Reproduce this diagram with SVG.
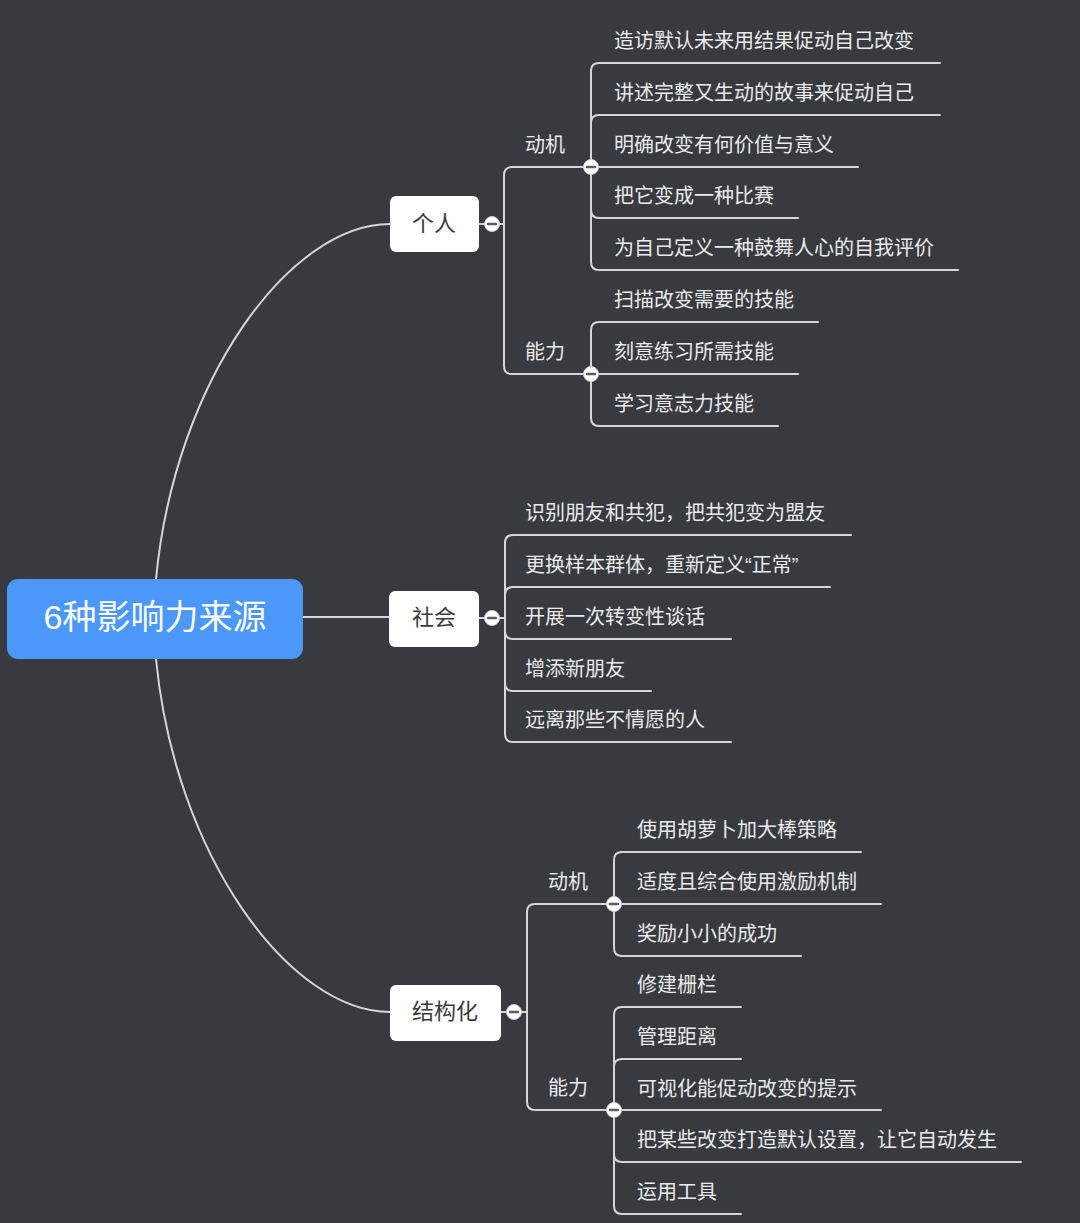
<svg xmlns="http://www.w3.org/2000/svg" width="1080" height="1223" viewBox="0 0 1080 1223">
<style>
.t{font-family:"Liberation Sans","Noto Sans CJK SC",sans-serif;font-size:20px;fill:#ebebeb;dominant-baseline:central}
.n{font-family:"Liberation Sans","Noto Sans CJK SC",sans-serif;font-size:22px;fill:#3a3a3a;text-anchor:middle;dominant-baseline:central}
.c{fill:none;stroke:#d6d6d6;stroke-width:2;stroke-linecap:round}
.nb{fill:#ffffff}
.btn circle{fill:#ffffff;stroke:#cfcfcf;stroke-width:1}
.btn line{stroke:#5c5c5c;stroke-width:2.5;stroke-linecap:round}
</style>
<defs>
<g id="minus" class="btn"><circle cx="0" cy="0" r="7.5"/><line x1="-4" y1="0" x2="4" y2="0"/></g>
</defs>
<rect width="1080" height="1223" fill="#383a3f"/>
<g id="connectors">
<path class="c" d="M156,579 C175,380 290,224 390,224"/>
<path class="c" d="M303,617 L390,617"/>
<path class="c" d="M156,659 C175,856 290,1012 390,1012"/>
<!-- 个人 -->
<path class="c" d="M479,224 L504,224"/>
<path class="c" d="M504,224 L504,175 Q504,167 512,167 L591,167"/>
<path class="c" d="M504,224 L504,366 Q504,374 512,374 L591,374"/>
<path class="c" d="M591,167 L591,71 Q591,63 599,63 L940,63"/>
<path class="c" d="M591,167 L591,123 Q591,115 599,115 L940,115"/>
<path class="c" d="M591,167 L858,167"/>
<path class="c" d="M591,167 L591,210 Q591,218 599,218 L798,218"/>
<path class="c" d="M591,167 L591,262 Q591,270 599,270 L958,270"/>
<path class="c" d="M591,374 L591,330 Q591,322 599,322 L818,322"/>
<path class="c" d="M591,374 L798,374"/>
<path class="c" d="M591,374 L591,418 Q591,426 599,426 L778,426"/>
<!-- 社会 -->
<path class="c" d="M479,618 L505,618"/>
<path class="c" d="M505,618 L505,543 Q505,535 513,535 L851,535"/>
<path class="c" d="M505,618 L505,595 Q505,587 513,587 L830,587"/>
<path class="c" d="M505,618 L505,631 Q505,639 513,639 L731,639"/>
<path class="c" d="M505,618 L505,683 Q505,691 513,691 L651,691"/>
<path class="c" d="M505,618 L505,734 Q505,742 513,742 L731,742"/>
<!-- 结构化 -->
<path class="c" d="M501,1012 L527,1012"/>
<path class="c" d="M527,1012 L527,912 Q527,904 535,904 L614,904"/>
<path class="c" d="M527,1012 L527,1102 Q527,1110 535,1110 L614,1110"/>
<path class="c" d="M614,904 L614,860 Q614,852 622,852 L861,852"/>
<path class="c" d="M614,904 L881,904"/>
<path class="c" d="M614,904 L614,948 Q614,956 622,956 L801,956"/>
<path class="c" d="M614,1110 L614,1015 Q614,1007 622,1007 L741,1007"/>
<path class="c" d="M614,1110 L614,1067 Q614,1059 622,1059 L741,1059"/>
<path class="c" d="M614,1110 L881,1110"/>
<path class="c" d="M614,1110 L614,1154 Q614,1162 622,1162 L1021,1162"/>
<path class="c" d="M614,1110 L614,1206 Q614,1214 622,1214 L741,1214"/>
</g>
<g id="root">
<rect x="7" y="579" width="296" height="80" rx="11" fill="#4b98f9"/>
<text x="155" y="617" font-family="Liberation Sans,'Noto Sans CJK SC',sans-serif" font-size="34" fill="#ffffff" text-anchor="middle" dominant-baseline="central">6种影响力来源</text>
</g>
<g id="node-geren">
<rect class="nb" x="390" y="196" width="89" height="56" rx="6"/>
<text class="n" x="434" y="223">个人</text>
<use href="#minus" x="492" y="224"/>
</g>
<g id="node-geren-dongji">
<text class="t" x="525" y="145">动机</text>
<use href="#minus" x="591" y="167"/>
</g>
<g id="node-geren-nengli">
<text class="t" x="525" y="352">能力</text>
<use href="#minus" x="591" y="374"/>
</g>
<g id="leaf-g1"><text class="t" x="614" y="41">造访默认未来用结果促动自己改变</text></g>
<g id="leaf-g2"><text class="t" x="614" y="93">讲述完整又生动的故事来促动自己</text></g>
<g id="leaf-g3"><text class="t" x="614" y="145">明确改变有何价值与意义</text></g>
<g id="leaf-g4"><text class="t" x="614" y="196">把它变成一种比赛</text></g>
<g id="leaf-g5"><text class="t" x="614" y="248">为自己定义一种鼓舞人心的自我评价</text></g>
<g id="leaf-g6"><text class="t" x="614" y="300">扫描改变需要的技能</text></g>
<g id="leaf-g7"><text class="t" x="614" y="352">刻意练习所需技能</text></g>
<g id="leaf-g8"><text class="t" x="614" y="404">学习意志力技能</text></g>
<g id="node-shehui">
<rect class="nb" x="389" y="591" width="90" height="56" rx="6"/>
<text class="n" x="434" y="617">社会</text>
<use href="#minus" x="492" y="618"/>
</g>
<g id="leaf-s1"><text class="t" x="525" y="513">识别朋友和共犯，把共犯变为盟友</text></g>
<g id="leaf-s2"><text class="t" x="525" y="565">更换样本群体，重新定义“正常”</text></g>
<g id="leaf-s3"><text class="t" x="525" y="617">开展一次转变性谈话</text></g>
<g id="leaf-s4"><text class="t" x="525" y="669">增添新朋友</text></g>
<g id="leaf-s5"><text class="t" x="525" y="720">远离那些不情愿的人</text></g>
<g id="node-jiegouhua">
<rect class="nb" x="390" y="985" width="111" height="56" rx="6"/>
<text class="n" x="445" y="1011">结构化</text>
<use href="#minus" x="514" y="1012"/>
</g>
<g id="node-jg-dongji">
<text class="t" x="548" y="882">动机</text>
<use href="#minus" x="614" y="904"/>
</g>
<g id="node-jg-nengli">
<text class="t" x="548" y="1088">能力</text>
<use href="#minus" x="614" y="1110"/>
</g>
<g id="leaf-j1"><text class="t" x="637" y="830">使用胡萝卜加大棒策略</text></g>
<g id="leaf-j2"><text class="t" x="637" y="882">适度且综合使用激励机制</text></g>
<g id="leaf-j3"><text class="t" x="637" y="934">奖励小小的成功</text></g>
<g id="leaf-j4"><text class="t" x="637" y="985">修建栅栏</text></g>
<g id="leaf-j5"><text class="t" x="637" y="1037">管理距离</text></g>
<g id="leaf-j6"><text class="t" x="637" y="1089">可视化能促动改变的提示</text></g>
<g id="leaf-j7"><text class="t" x="637" y="1140">把某些改变打造默认设置，让它自动发生</text></g>
<g id="leaf-j8"><text class="t" x="637" y="1192">运用工具</text></g>
</svg>
